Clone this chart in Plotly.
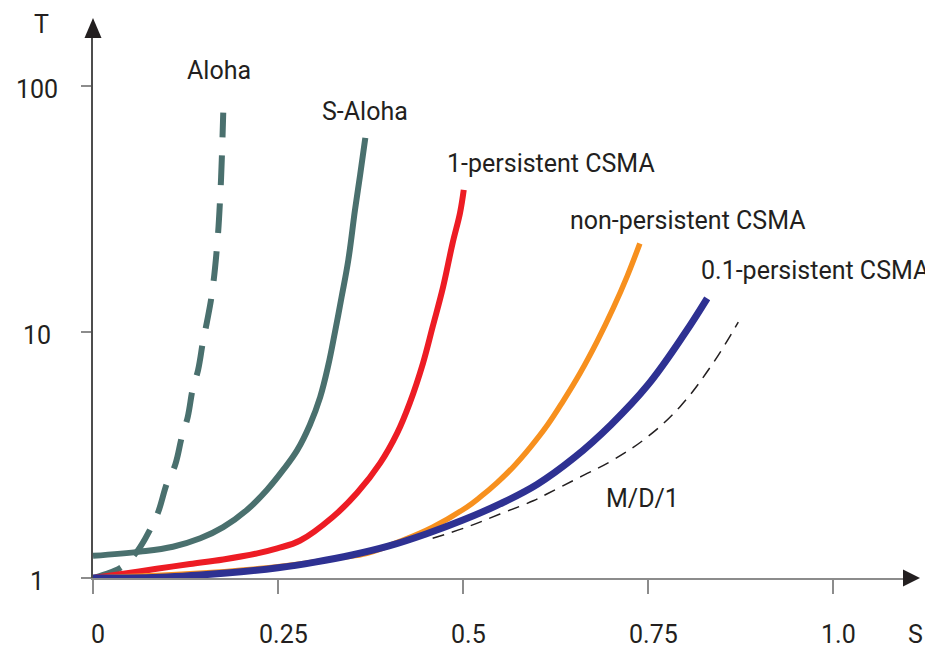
import numpy as np
import plotly.graph_objects as go

# channel throughput S vs normalised delay T
aloha_s = [0, 0.014, 0.039, 0.061, 0.077, 0.088, 0.100, 0.111, 0.120, 0.128, 0.135,
           0.142, 0.149, 0.154, 0.161, 0.168, 0.172, 0.174, 0.176]
aloha_t = [1.0, 1.03, 1.11, 1.30, 1.57, 1.85, 2.43, 2.88, 3.74, 4.51, 5.92,
           7.0, 9.3, 11.0, 14.5, 23.0, 36.0, 50.0, 78.0]

saloha_s = [0, 0.064, 0.108, 0.145, 0.176, 0.208, 0.235, 0.257, 0.276, 0.293, 0.307,
            0.318, 0.327, 0.336, 0.345, 0.354, 0.361, 0.368]
saloha_t = [1.23, 1.28, 1.34, 1.45, 1.61, 1.89, 2.28, 2.75, 3.31, 4.19, 5.44,
            7.34, 10.0, 13.9, 19.6, 31.3, 43.5, 61.5]

p1_s = [0, 0.041, 0.086, 0.131, 0.176, 0.222, 0.249, 0.280, 0.324, 0.357, 0.388,
        0.411, 0.428, 0.446, 0.459, 0.473, 0.486, 0.496, 0.501]
p1_t = [1.0, 1.04, 1.09, 1.14, 1.19, 1.26, 1.32, 1.42, 1.77, 2.22, 2.93,
        3.88, 5.14, 7.48, 10.5, 15.2, 23.0, 30.5, 37.8]

nonp_s = [0, 0.131, 0.222, 0.280, 0.334, 0.370, 0.415, 0.459, 0.505, 0.523, 0.546,
          0.568, 0.591, 0.614, 0.635, 0.658, 0.681, 0.703, 0.722, 0.739]
nonp_t = [1.0, 1.04, 1.09, 1.14, 1.21, 1.26, 1.41, 1.61, 1.94, 2.13, 2.44,
          2.83, 3.40, 4.18, 5.22, 6.79, 9.13, 12.5, 16.9, 22.9]

p01_s = [0, 0.10, 0.20, 0.25, 0.30, 0.35, 0.40, 0.45, 0.50, 0.55, 0.60,
         0.65, 0.70, 0.75, 0.80, 0.83]
p01_t = [1.0, 1.01, 1.06, 1.10, 1.16, 1.24, 1.35, 1.51, 1.72, 2.0, 2.40,
         3.08, 4.20, 6.10, 9.90, 13.7]

md1_s = [0.459, 0.505, 0.550, 0.595, 0.614, 0.658, 0.703, 0.749, 0.793, 0.838, 0.872]
md1_t = [1.45, 1.61, 1.82, 2.06, 2.20, 2.57, 3.02, 3.74, 4.96, 7.48, 10.98]

x_ticks = [0, 0.25, 0.5, 0.75, 1.0]
x_tick_text = ["0", "0.25", "0.5", "0.75", "1.0"]
y_ticks = [1, 10, 100]
y_tick_text = ["1", "10", "100"]

TEXT = "#231f20"
FONT = "Roboto, Liberation Sans, sans-serif"

fig = go.Figure()


def add_curve(s, t, color, width, dash="solid"):
    fig.add_trace(go.Scatter(x=s, y=t, mode="lines", hoverinfo="skip",
                             line=dict(color=color, width=width, dash=dash,
                                       shape="spline", smoothing=1.1)))


add_curve(aloha_s, aloha_t, "#4a706e", 6, "30px,18px")
add_curve(saloha_s, saloha_t, "#4a706e", 6)
add_curve(p1_s, p1_t, "#ed1c24", 6)
add_curve(nonp_s, nonp_t, "#f7901e", 5.5)
add_curve(md1_s, md1_t, TEXT, 1.5, "12px,8px")
add_curve(p01_s, p01_t, "#2e3192", 7)

# curve labels (S, log10 T)
labels = [
    ("Aloha", 0.170, 2.061),
    ("S-Aloha", 0.368, 1.898),
    ("1-persistent CSMA", 0.619, 1.687),
    ("non-persistent CSMA", 0.804, 1.455),
    ("0.1-persistent CSMA", 0.976, 1.252),
    ("M/D/1", 0.742, 0.325),
]
for txt, sx, ly in labels:
    fig.add_annotation(x=sx, y=ly, xref="x", yref="y", text=txt, showarrow=False,
                       xanchor="center", yanchor="middle")

for v, txt in zip(x_ticks, x_tick_text):
    fig.add_annotation(x=v, y=0, xref="x", yref="paper", text=txt, showarrow=False,
                       xanchor="center", yanchor="middle", xshift=5, yshift=-56)
for v, txt in zip(y_ticks, y_tick_text):
    fig.add_annotation(x=0, y=np.log10(v), xref="paper", yref="y", text=txt,
                       showarrow=False, xanchor="center", yanchor="middle",
                       xshift=-56, yshift=-3)

fig.add_annotation(x=0, y=1, xref="paper", yref="paper", text="T", showarrow=False,
                   xanchor="center", yanchor="middle", xshift=-52, yshift=14)
fig.add_annotation(x=1, y=0, xref="paper", yref="paper", text="S", showarrow=False,
                   xanchor="center", yanchor="middle", xshift=12, yshift=-56)

# arrow heads on the axes
fig.add_shape(type="path", xref="paper", yref="paper", xsizemode="pixel", ysizemode="pixel",
              xanchor=0, yanchor=1, path="M -8.5,0 L 8.5,0 L 0,20 Z",
              fillcolor=TEXT, line_width=0)
fig.add_shape(type="path", xref="paper", yref="paper", xsizemode="pixel", ysizemode="pixel",
              xanchor=1, yanchor=0, path="M 0,-8.5 L 0,8.5 L 17,0 Z",
              fillcolor=TEXT, line_width=0)

# page body has an 8px margin, so the margins are pulled in by 8px
fig.update_layout(
    width=933, height=653,
    margin=dict(l=85, r=38, t=30, b=83),
    paper_bgcolor="white", plot_bgcolor="white",
    showlegend=False,
    font=dict(family=FONT, size=25, color=TEXT),
    xaxis=dict(range=[0, 810 / 740], showgrid=False, zeroline=False,
               showline=True, linecolor="#8c8c8c", linewidth=2,
               ticks="outside", ticklen=14, tickwidth=1.5, tickcolor="#8c8c8c",
               tickvals=x_ticks, showticklabels=False),
    yaxis=dict(type="log", range=[0, 540 / 246], showgrid=False, zeroline=False,
               showline=True, linecolor="#4d4d4d", linewidth=1.5,
               ticks="outside", ticklen=10, tickwidth=1.5, tickcolor="#8c8c8c",
               tickvals=y_ticks, showticklabels=False),
)

fig.write_html("out.html")
